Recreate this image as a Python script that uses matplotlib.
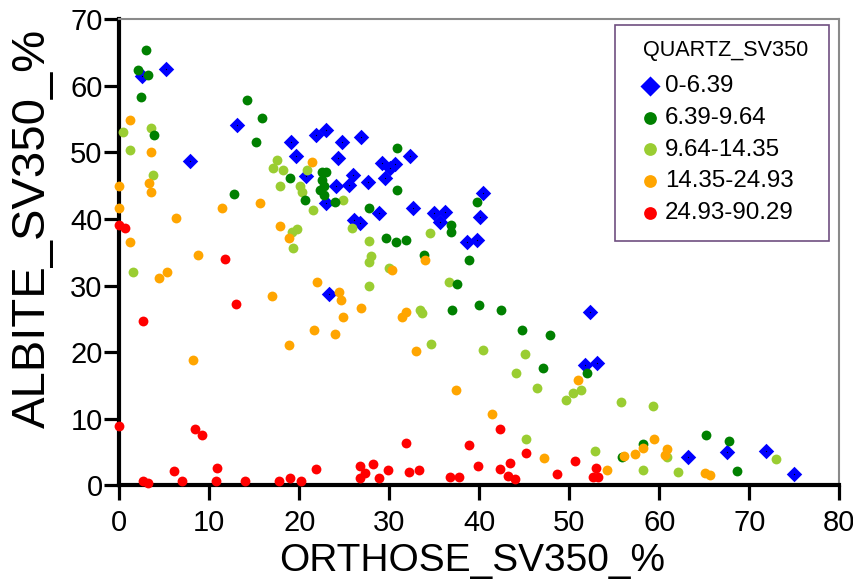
import matplotlib
matplotlib.use("Agg")
import matplotlib.pyplot as plt
from matplotlib.patches import Rectangle

plt.rcParams['font.family'] = ['Liberation Sans', 'DejaVu Sans']

# ---------------- data (ORTHOSE_SV350_%, ALBITE_SV350_%) ----------------
legend_title = "QUARTZ_SV350"
cls_labels = ["0-6.39", "6.39-9.64", "9.64-14.35", "14.35-24.93", "24.93-90.29"]
cls_colors = ["#0000ff", "#008000", "#9acd32", "#ffa500", "#ff0000"]

blue_x = [5.2, 2.5, 13.1, 7.85, 19.1, 19.6, 21.9, 23.0, 24.7, 24.3, 26.9, 20.7, 26.0, 24.1,
          25.5, 27.6, 29.2, 30.6, 32.3, 30.1, 29.5, 23.0, 26.1, 26.7, 28.8, 32.6, 35.0, 36.2,
          35.6, 40.4, 40.1, 38.6, 39.7, 23.3, 52.3, 51.7, 53.1, 63.2, 67.5, 71.9, 75.0]
blue_y = [62.5, 61.4, 54.1, 48.7, 51.5, 49.4, 52.6, 53.3, 51.5, 49.1, 52.3, 46.4, 46.6, 44.9,
          45.1, 45.6, 48.4, 48.3, 49.4, 47.6, 46.1, 42.4, 39.9, 39.4, 40.9, 41.7, 40.9, 41.1,
          39.5, 43.9, 40.3, 36.5, 36.9, 28.8, 26.1, 18.1, 18.4, 4.3, 5.0, 5.2, 1.7]

dgreen_x = [2.97, 2.1, 3.15, 2.4, 3.85, 14.2, 15.9, 15.2, 12.7, 19.0, 20.6, 22.5, 23.0, 22.5,
            22.7, 22.3, 22.7, 24.0, 27.7, 30.9, 30.9, 29.6, 30.7, 31.9, 36.9, 36.9, 39.7, 33.9,
            38.9, 37.5, 37.0, 40.0, 42.4, 44.7, 47.9, 47.1, 52.0, 55.8, 58.2, 65.2, 67.7, 68.6]
dgreen_y = [65.4, 62.3, 61.6, 58.3, 52.6, 57.8, 55.2, 51.5, 43.8, 46.1, 42.9, 47.1, 47.1, 45.9,
            44.9, 44.4, 43.6, 42.5, 41.6, 50.6, 44.4, 37.2, 36.6, 36.8, 39.1, 38.0, 42.5, 34.6,
            33.8, 30.3, 26.4, 27.1, 26.4, 23.4, 22.6, 17.7, 16.9, 4.3, 6.2, 7.6, 6.7, 2.2]

lgreen_x = [0.45, 3.5, 1.2, 3.7, 1.55, 17.5, 17.1, 18.2, 17.9, 20.1, 20.3, 20.8, 21.5, 24.9,
            19.7, 19.2, 19.3, 25.9, 27.7, 28.0, 27.7, 30.0, 27.7, 34.5, 36.6, 33.4, 33.6, 34.6,
            40.4, 45.1, 44.1, 46.4, 49.6, 50.4, 51.3, 45.2, 52.9, 55.7, 59.3, 58.2, 60.8, 62.1, 73.0]
lgreen_y = [53.1, 53.6, 50.4, 46.6, 32.1, 48.8, 47.7, 47.4, 45.0, 44.9, 44.1, 47.4, 41.4, 42.8,
            38.5, 38.0, 35.7, 38.7, 36.7, 34.5, 33.5, 32.6, 29.9, 37.9, 30.6, 26.4, 25.9, 21.2,
            20.3, 19.8, 16.9, 14.7, 12.9, 13.9, 14.4, 7.0, 5.2, 12.5, 12.0, 2.3, 4.3, 2.0, 3.9]

orange_x = [1.2, 3.5, 0.0, 3.3, 3.5, 0.0, 6.3, 1.2, 8.7, 11.4, 15.6, 17.9, 18.9, 21.4, 4.45,
            5.3, 8.15, 17.0, 22.0, 24.4, 24.6, 24.8, 21.6, 24.0, 18.8, 26.9, 30.3, 31.4, 31.9,
            34.0, 33.0, 37.4, 41.4, 51.0, 47.2, 54.2, 56.1, 57.3, 58.2, 59.4, 60.9, 60.6, 65.1, 65.6]
orange_y = [54.9, 50.1, 45.0, 45.4, 44.0, 41.6, 40.1, 36.6, 34.6, 41.7, 42.4, 39.0, 37.1, 48.6,
            31.1, 32.1, 18.9, 28.5, 30.6, 29.0, 27.9, 25.3, 23.4, 22.7, 21.1, 26.6, 32.4, 25.3,
            26.1, 33.8, 20.2, 14.4, 10.7, 15.9, 4.1, 2.3, 4.4, 4.7, 5.6, 7.0, 5.5, 4.6, 1.8, 1.6]

red_x = [0.0, 0.6, 11.7, 2.6, 13.0, 0.0, 8.4, 9.2, 2.6, 3.2, 6.1, 7.0, 10.8, 10.7, 14.0, 17.7,
         19.0, 20.2, 21.9, 26.7, 27.3, 26.7, 28.2, 28.9, 29.9, 31.9, 32.2, 33.3, 36.7, 37.7,
         38.9, 39.9, 42.3, 42.3, 43.4, 43.2, 44.0, 45.2, 48.6, 50.6, 53.0, 52.6, 53.2]
red_y = [39.1, 38.6, 34.0, 24.7, 27.2, 9.0, 8.4, 7.6, 0.6, 0.4, 2.1, 0.7, 2.6, 0.6, 0.7, 0.6,
         1.1, 0.6, 2.5, 2.9, 1.9, 1.1, 3.2, 1.1, 2.3, 6.3, 2.0, 2.3, 1.3, 1.3,
         6.1, 2.9, 8.5, 2.5, 3.3, 1.4, 1.0, 4.9, 1.7, 3.6, 2.6, 1.2, 1.2]

x_ticks = [0, 10, 20, 30, 40, 50, 60, 70, 80]
y_ticks = [0, 10, 20, 30, 40, 50, 60, 70]

# ---------------- figure ----------------
fig = plt.figure(figsize=(8.54, 5.84), dpi=100)
ax = fig.add_axes([0.1397, 0.1687, 0.8431, 0.7988])
ax.set_xlim(0, 80)
ax.set_ylim(0, 70)

circ_s = 50
dia_s = 62
h_blue = ax.scatter(blue_x, blue_y, s=dia_s, marker='D', color=cls_colors[0], linewidths=0,
                    zorder=3, clip_on=False)
ax.scatter(blue_x, blue_y, s=0.8, marker='o', color='black', linewidths=0,
           zorder=3.1, clip_on=False)
h_lg = ax.scatter(lgreen_x, lgreen_y, s=circ_s, color=cls_colors[2], linewidths=0,
                  zorder=3.2, clip_on=False)
h_dg = ax.scatter(dgreen_x, dgreen_y, s=circ_s, color=cls_colors[1], linewidths=0,
                  zorder=3.3, clip_on=False)
h_or = ax.scatter(orange_x, orange_y, s=circ_s, color=cls_colors[3], linewidths=0,
                  zorder=3.4, clip_on=False)
h_rd = ax.scatter(red_x, red_y, s=circ_s, color=cls_colors[4], linewidths=0,
                  zorder=3.5, clip_on=False)

ax.set_xticks(x_ticks)
ax.set_yticks(y_ticks)
ax.tick_params(axis='both', direction='out', length=11, width=2.3, labelsize=21, color='black')
ax.tick_params(axis='x', pad=6)
ax.tick_params(axis='y', pad=1)

for side in ('left', 'bottom'):
    ax.spines[side].set_linewidth(3)
    ax.spines[side].set_color('black')
for side in ('top', 'right'):
    ax.spines[side].set_linewidth(1.5)
    ax.spines[side].set_color('#8a8a8a')

ax.set_xlabel("ORTHOSE_SV350_%", fontsize=28)
ax.xaxis.set_label_coords(0.4899, -0.1618)
ax.xaxis.label.set_va('center')
ax.set_ylabel("ALBITE_SV350_%", fontsize=34)
ax.yaxis.set_label_coords(-0.1199, 0.552)
ax.yaxis.label.set_va('center')

# legend frame + title
ax.add_patch(Rectangle((0.6885, 0.5241), 0.9861 - 0.6885, 0.9871 - 0.5241,
                       transform=ax.transAxes, facecolor='white', edgecolor='#6f4f80',
                       linewidth=1.2, zorder=4, clip_on=False))
ax.text(0.8426, 0.9325, legend_title, transform=ax.transAxes, fontsize=15.6,
        ha='center', va='center', zorder=5)

leg = ax.legend([h_blue, h_dg, h_lg, h_or, h_rd], cls_labels,
                loc='upper left', bbox_to_anchor=(0.7036, 0.9052), borderpad=0,
                frameon=False, fontsize=17.4, scatterpoints=1, markerscale=1.3,
                handlelength=1.0, handletextpad=0.12, labelspacing=0.40)
leg.set_zorder(5)

fig.savefig("out.png", dpi=100)
